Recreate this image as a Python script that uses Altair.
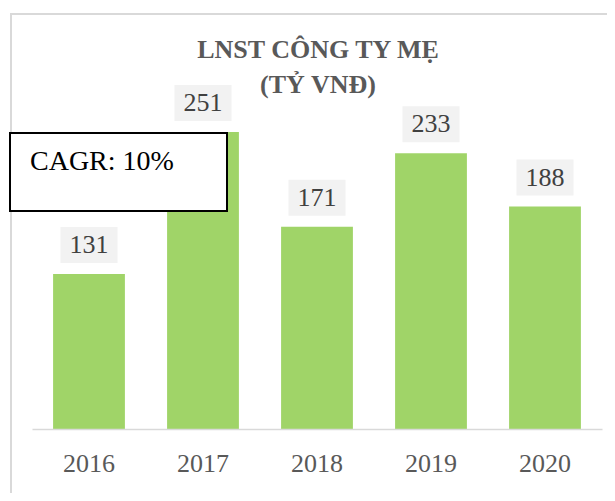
import altair as alt
import pandas as pd

years = ["2016", "2017", "2018", "2019", "2020"]
profits = [131, 251, 171, 233, 188]
title_lines = ["LNST CÔNG TY MẸ", "(TỶ VNĐ)"]
cagr_text = "CAGR: 10%"

df = pd.DataFrame({"year": years, "value": profits})

FONT = "Liberation Serif"
GREEN = "#a0d468"

x = alt.X("year:N", sort=years, title=None,
          scale=alt.Scale(paddingInner=0.37, paddingOuter=0.185),
          axis=alt.Axis(domainColor="#d9d9d9", domainWidth=1.5, ticks=False,
                        labelAngle=0, labelFont=FONT, labelFontSize=26,
                        labelColor="#595959", labelBaseline="alphabetic",
                        labelPadding=42, grid=False, zindex=1))
y = alt.Y("value:Q", scale=alt.Scale(domain=[0, 300]), axis=None, title=None)

base = alt.Chart(df)

frame = alt.Chart(pd.DataFrame({"k": [0]})).mark_rect(
    fillOpacity=0, stroke="#d9d9d9", strokeWidth=2
).encode(x=alt.value(-21), x2=alt.value(620), y=alt.value(-60), y2=alt.value(460))

bars = base.mark_bar(color=GREEN).encode(x=x, y=y)

label_box = base.mark_rect(color="#f2f2f2", width=57, height=36, yOffset=-29).encode(
    x=x, y=y)
label_text = base.mark_text(font=FONT, fontSize=26, color="#404040",
                            baseline="middle", yOffset=-29).encode(
    x=x, y=y, text="value:Q")

title1 = alt.Chart(pd.DataFrame({"t": [title_lines[0]]})).mark_text(
    font=FONT, fontSize=26, fontWeight="bold", color="#595959", baseline="middle"
).encode(text="t:N", x=alt.value(286), y=alt.value(-24))
title2 = alt.Chart(pd.DataFrame({"t": [title_lines[1]]})).mark_text(
    font=FONT, fontSize=26, fontWeight="bold", color="#595959", baseline="middle"
).encode(text="t:N", x=alt.value(286), y=alt.value(11))

cagr_box = alt.Chart(pd.DataFrame({"t": [cagr_text]})).mark_rect(
    fill="white", stroke="black", strokeWidth=2
).encode(x=alt.value(-22), x2=alt.value(195), y=alt.value(59), y2=alt.value(137))
cagr_label = alt.Chart(pd.DataFrame({"t": [cagr_text]})).mark_text(
    font=FONT, fontSize=28, color="black", align="left", baseline="middle"
).encode(text="t:N", x=alt.value(-2), y=alt.value(88))

chart = alt.layer(frame, bars, cagr_box, cagr_label, label_box, label_text, title1, title2).properties(
    width=570, height=355,
    autosize=alt.AutoSizeParams(type="none"),
    padding={"left": 24, "top": 66, "right": 5, "bottom": 64},
).configure_view(stroke=None)

chart.save("out.html", embed_options={"renderer": "svg", "actions": False})
